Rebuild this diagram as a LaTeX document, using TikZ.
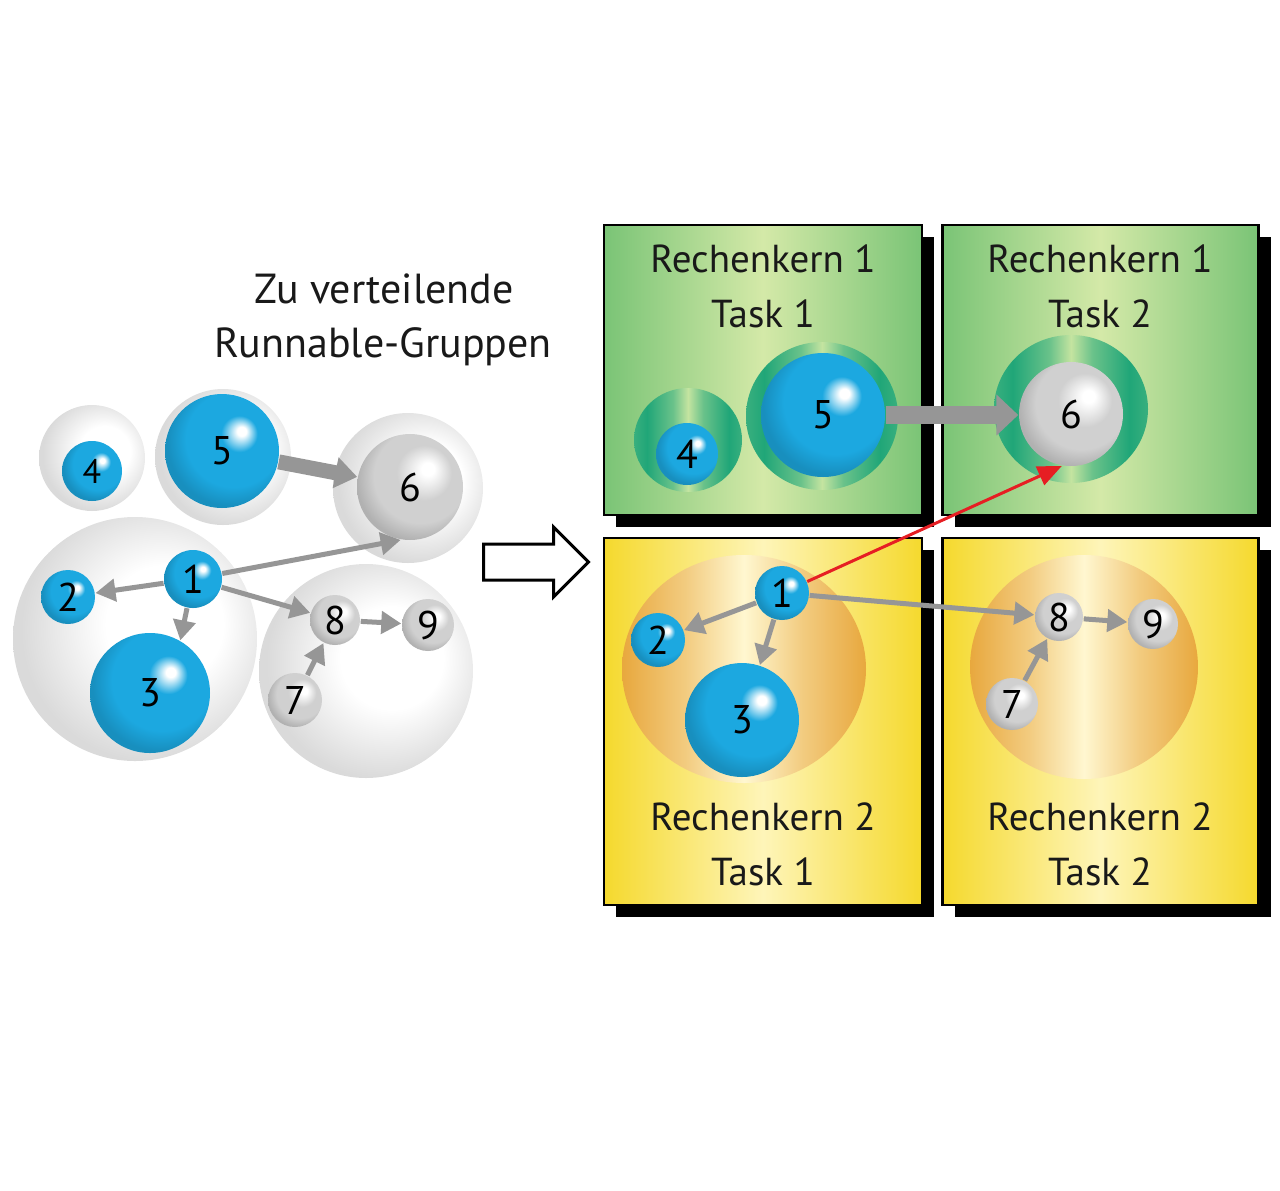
\documentclass[tikz,border=0pt]{standalone}
\usepackage{fontspec}
\setmainfont{PT Sans}
\usetikzlibrary{arrows.meta,shapes.geometric,shapes.arrows,shadows,positioning}

\definecolor{ballblue}{RGB}{28,168,224}
\definecolor{ballgray}{RGB}{208,208,208}
\definecolor{halogray}{RGB}{218,218,218}
\definecolor{arrowgray}{RGB}{150,150,150}
\definecolor{redarrow}{RGB}{230,30,35}
\definecolor{kerngreen}{RGB}{122,196,118}
\definecolor{kernlight}{RGB}{212,233,168}
\definecolor{kernyellow}{RGB}{245,217,45}
\definecolor{kernpale}{RGB}{254,245,185}
\definecolor{ringteal}{RGB}{32,166,120}
\definecolor{ringlight}{RGB}{196,228,160}
\definecolor{haloorange}{RGB}{232,168,62}
\definecolor{halocream}{RGB}{255,247,208}

\pgfdeclareradialshading{bluesphere}{\pgfpoint{9bp}{9bp}}{color(0bp)=(white); color(2bp)=(white); color(8bp)=(ballblue); color(21bp)=(ballblue); color(28bp)=(ballblue!85!black); color(50bp)=(ballblue!85!black)}
\pgfdeclareradialshading{graysphere}{\pgfpoint{9bp}{9bp}}{color(0bp)=(white); color(3bp)=(white); color(13bp)=(ballgray); color(22bp)=(ballgray); color(29bp)=(ballgray!85!black); color(50bp)=(ballgray!85!black)}
\pgfdeclareradialshading{grayhalo}{\pgfpoint{8bp}{4bp}}{color(0bp)=(white); color(12bp)=(white); color(27bp)=(halogray); color(50bp)=(halogray)}
\pgfdeclarehorizontalshading{tealring}{100bp}{color(0bp)=(ringteal); color(25bp)=(ringteal!85!ringlight); color(31bp)=(ringteal); color(43bp)=(ringteal!55!ringlight); color(50bp)=(ringlight); color(57bp)=(ringteal!55!ringlight); color(69bp)=(ringteal); color(75bp)=(ringteal!85!ringlight); color(100bp)=(ringteal)}
\pgfdeclarehorizontalshading{orangehalo}{100bp}{color(0bp)=(haloorange); color(25bp)=(haloorange); color(38bp)=(haloorange!55!halocream); color(50bp)=(halocream); color(62bp)=(haloorange!55!halocream); color(75bp)=(haloorange); color(100bp)=(haloorange)}

\begin{document}
\begin{tikzpicture}
[x=0.5pt, y=-0.5pt, line width=0.75pt,
titel/.style={font=\fontsize{21pt}{25pt}\selectfont, text=black!90, inner sep=0pt},
kerntext/.style={font=\fontsize{19.5pt}{24pt}\selectfont, text=black!90, inner sep=0pt},
kernbox/.style={rectangle, draw=black, line width=1.2pt, inner sep=0pt, drop shadow={shadow xshift=6pt, shadow yshift=-6pt, fill=black, opacity=1}},
kerngruen/.style={kernbox, left color=kerngreen, right color=kerngreen, middle color=kernlight},
kerngelb/.style={kernbox, left color=kernyellow, right color=kernyellow, middle color=kernpale},
hof/.style={circle, inner sep=0pt, shading=grayhalo},
gruenring/.style={ellipse, inner sep=0pt, shading=tealring},
orangehof/.style={ellipse, inner sep=0pt, shading=orangehalo},
kugelblau/.style={circle, inner sep=0pt, shading=bluesphere, font=\fontsize{20pt}{24pt}\selectfont},
kugelgrau/.style={circle, inner sep=0pt, shading=graysphere, font=\fontsize{20pt}{24pt}\selectfont},
pfeil/.style={draw=arrowgray, line width=2.5pt, -{Triangle[length=10pt,width=11pt]}},
dickpfeil/.style={draw=arrowgray, line width=7.5pt, -{Triangle[length=11pt,width=15pt]}},
breitpfeil/.style={draw=arrowgray, line width=9pt, -{Triangle[length=11pt,width=20pt]}},
rotpfeil/.style={draw=redarrow, line width=1.5pt, -{Triangle[length=12pt,width=10pt]}}]

\useasboundingbox (0,0) rectangle (1280,1190);

\node[titel, anchor=base] (titel1) at (384,303) {Zu verteilende};
\node[titel, anchor=base] (titel2) at (383,357) {Runnable-Gruppen};

\node[hof, minimum size=53pt] (h4) at (92,458) {};
\node[hof, minimum size=68pt] (h5) at (223,457) {};
\node[hof, minimum size=75pt] (h6) at (408,488) {};
\node[hof, minimum size=122pt] (h123) at (135,639) {};
\node[hof, minimum size=107pt] (h789) at (366,671) {};

\node[kugelblau, minimum size=30pt, font=\fontsize{17pt}{20pt}\selectfont] (b4) at (92,471) {4};
\node[kugelblau, minimum size=57pt] (b5) at (222,451) {5};
\node[kugelgrau, minimum size=53pt] (b6) at (410,487) {6};
\node[kugelblau, minimum size=29pt] (b1) at (193,579) {1};
\node[kugelblau, minimum size=27pt] (b2) at (68,597) {2};
\node[kugelblau, minimum size=60pt] (b3) at (150,693) {3};
\node[kugelgrau, minimum size=25pt] (b8) at (335,620) {8};
\node[kugelgrau, minimum size=26pt] (b9) at (428,625) {9};
\node[kugelgrau, minimum size=27pt] (b7) at (295,700) {7};

\draw[dickpfeil] (b5) -- (b6);
\draw[pfeil] (b1) -- (b6.-100);
\draw[pfeil] (b1) -- (b2);
\draw[pfeil] (b1) -- (b3.60);
\draw[pfeil] (b1) -- (b8);
\draw[pfeil] (b8) -- (b9);
\draw[pfeil] (b7) -- (b8);

\node[single arrow, draw=black, line width=1.5pt, fill=white, inner xsep=0pt, inner ysep=8.25pt, minimum height=52.5pt, single arrow head extend=8.5pt] (weiter) at (527,562) {};

\node[kerngruen, minimum width=159pt, minimum height=145pt] (k11) at (763,370) {};
\node[kerngruen, minimum width=158pt, minimum height=145pt] (k12) at (1100.5,370) {};
\node[kerngelb, minimum width=159pt, minimum height=183.5pt] (k21) at (763,721.5) {};
\node[kerngelb, minimum width=158pt, minimum height=183.5pt] (k22) at (1100.5,721.5) {};

\node[kerntext, anchor=base] (r11) at (763,272) {Rechenkern 1};
\node[kerntext, anchor=base] (t11) at (763,327) {Task 1};
\node[kerntext, anchor=base] (r12) at (1100,272) {Rechenkern 1};
\node[kerntext, anchor=base] (t12) at (1100,327) {Task 2};
\node[kerntext, anchor=base] (r21) at (763,830) {Rechenkern 2};
\node[kerntext, anchor=base] (t21) at (763,885) {Task 1};
\node[kerntext, anchor=base] (r22) at (1100,830) {Rechenkern 2};
\node[kerntext, anchor=base] (t22) at (1100,885) {Task 2};

\node[gruenring, minimum width=54pt, minimum height=52pt] (rh4) at (688,440) {};
\node[gruenring, minimum width=76pt, minimum height=74pt] (rh5) at (822,416) {};
\node[gruenring, minimum width=77pt, minimum height=74pt] (rh6) at (1071,409) {};
\node[orangehof, minimum width=122pt, minimum height=114pt] (rh123) at (744,669) {};
\node[orangehof, minimum width=114pt, minimum height=112pt] (rh789) at (1084,667) {};

\node[kugelblau, minimum size=31pt] (rb4) at (687,454) {4};
\node[kugelblau, minimum size=62pt] (rb5) at (823,415) {5};
\node[kugelgrau, minimum size=52pt] (rb6) at (1071,414) {6};
\node[kugelblau, minimum size=27pt] (rb1) at (782,593) {1};
\node[kugelblau, minimum size=27pt] (rb2) at (658,640) {2};
\node[kugelblau, minimum size=57pt] (rb3) at (742,720) {3};
\node[kugelgrau, minimum size=24pt] (rb8) at (1059,617) {8};
\node[kugelgrau, minimum size=25pt] (rb9) at (1153,624) {9};
\node[kugelgrau, minimum size=26pt] (rb7) at (1012,704) {7};

\draw[breitpfeil] (rb5) -- (rb5 -| rb6.west);
\draw[rotpfeil] (rb1) -- (rb6.-100);
\draw[pfeil] (rb1) -- (rb2);
\draw[pfeil] (rb1) -- (rb3.72);
\draw[pfeil] (rb1) -- (rb8);
\draw[pfeil] (rb8) -- (rb9);
\draw[pfeil] (rb7) -- (rb8);
\end{tikzpicture}
\end{document}
